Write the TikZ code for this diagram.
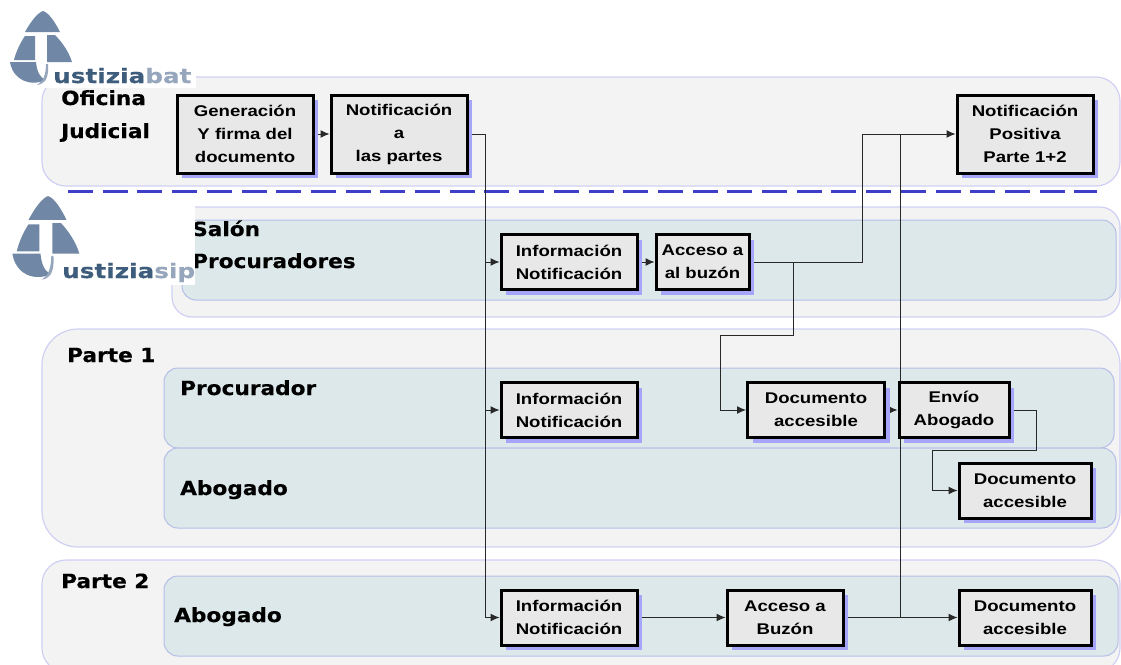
\documentclass[tikz,border=0pt]{standalone}
\usepackage{fontspec}
\usetikzlibrary{shadows,backgrounds,calc,arrows.meta}
\newfontfamily\boxfont[FakeStretch=1.2]{Liberation Sans Bold}
\newfontfamily\lanefont[FakeStretch=1.11,FakeBold=0.4]{DejaVu Sans Bold}
\newfontfamily\markfont[FakeStretch=1.235,FakeBold=0.4]{DejaVu Sans Bold}
\definecolor{outerfill}{RGB}{243,243,243}
\definecolor{outerline}{RGB}{208,208,245}
\definecolor{innerfill}{RGB}{220,232,234}
\definecolor{innerline}{RGB}{182,190,232}
\definecolor{boxfill}{RGB}{232,232,232}
\definecolor{boxshade}{RGB}{165,165,250}
\definecolor{flowline}{RGB}{40,40,40}
\definecolor{dashblue}{RGB}{62,62,200}
\definecolor{logodark}{RGB}{62,92,124}
\definecolor{logomid}{RGB}{112,136,166}
\definecolor{logolight}{RGB}{150,166,188}
\tikzset{
  stepbox/.style={draw=black,line width=3pt,fill=boxfill,inner sep=0pt,align=center,
    font=\boxfont\fontsize{15.5}{23}\selectfont,
    drop shadow={shadow xshift=5pt,shadow yshift=-5pt,fill=boxshade,opacity=1}},
  outerpanel/.style={draw=outerline,line width=1.2pt,fill=outerfill},
  innerpanel/.style={draw=innerline,line width=1pt,fill=innerfill,rounded corners=14pt},
  lanelabel/.style={anchor=base west,inner sep=0pt,font=\lanefont\fontsize{19.5}{22}\selectfont},
  flow/.style={draw=flowline,line width=1pt,-{Latex[length=9pt,width=8pt]}},
  plainflow/.style={draw=flowline,line width=1pt},
  logotext/.style={anchor=base west,inner sep=0pt,font=\markfont\fontsize{20}{22}\selectfont},
  pics/scalemark/.style={code={
    \fill[logomid] (43,11) .. controls (37,13) and (30,23) .. (25,32) -- (60,32) .. controls (55,22) and (49,13) .. (43,11) -- cycle;
    \fill[logomid] (35,36) -- (35,60) -- (14,60) .. controls (16,52) and (20,43) .. (25,36) -- cycle;
    \fill[logomid] (47,35) -- (47,62) -- (72,62) .. controls (69,52) and (62,42) .. (55,35) -- cycle;
    \fill[logomid] (10,62) -- (36,62) .. controls (37,72) and (40,78) .. (46,80) .. controls (30,87) and (13,80) .. (10,62) -- cycle;
    \fill[logolight] (48,64) .. controls (49,76) and (46,84) .. (37,85) .. controls (43,82) and (46,75) .. (46,64) -- cycle;
  }}
}
\begin{document}
\begin{tikzpicture}[x=1pt,y=-1pt]
  \useasboundingbox (0,0) rectangle (1121,664);
  % boxes
  \node[stepbox,minimum width=136pt,minimum height=78pt] (genera) at (245,134) {Generación\\Y firma del\\documento};
  \node[stepbox,minimum width=136pt,minimum height=78pt] (notif) at (399,134) {Notificación\\a\\las partes};
  \node[stepbox,minimum width=136pt,minimum height=78pt] (positiva) at (1025,134) {Notificación\\Positiva\\Parte 1+2};
  \node[stepbox,minimum width=136pt,minimum height=55pt] (infosalon) at (569,262) {Información\\Notificación};
  \node[stepbox,minimum width=93pt,minimum height=55pt] (accesosalon) at (702.5,262) {Acceso a\\al buzón};
  \node[stepbox,minimum width=136pt,minimum height=55pt] (infouno) at (569,410) {Información\\Notificación};
  \node[stepbox,minimum width=137pt,minimum height=55pt] (docuno) at (816,410) {Documento\\accesible};
  \node[stepbox,minimum width=110pt,minimum height=55pt] (envio) at (954,410) {Envío\\Abogado};
  \node[stepbox,minimum width=132pt,minimum height=55pt] (docdos) at (1025,490.5) {Documento\\accesible};
  \node[stepbox,minimum width=136pt,minimum height=55pt] (infodos) at (569,617.5) {Información\\Notificación};
  \node[stepbox,minimum width=116pt,minimum height=55pt] (accesodos) at (785,617.5) {Acceso a\\Buzón};
  \node[stepbox,minimum width=132pt,minimum height=55pt] (docfin) at (1025,617.5) {Documento\\accesible};
  % bends of the lines
  \coordinate (trunk) at (485,617.5);
  \coordinate (busup) at (862,134);
  \coordinate (riser) at (900,134);
  \coordinate (dropright) at (793,335);
  \coordinate (dropleft) at (720,335);
  \coordinate (hookright) at (1036,450);
  \coordinate (hookleft) at (932,450);
  \begin{scope}[on background layer]
    \draw[outerpanel,rounded corners=24pt] (42,77) rectangle (1120,186);
    \draw[outerpanel,rounded corners=20pt] (172,207) rectangle (1120,317);
    \draw[innerpanel] (182,220) rectangle (1116,300);
    \draw[outerpanel,rounded corners=36pt] (42,329) rectangle (1120,547);
    \draw[innerpanel] (164,368) rectangle (1114,448);
    \draw[innerpanel] (164,448) rectangle (1116,528);
    \draw[outerpanel,rounded corners=24pt] (42,560) rectangle (1120,672);
    \draw[innerpanel] (164,576) rectangle (1118,656);
    \draw[dashblue,line width=2.4pt,dash pattern=on 25pt off 9.7pt] (68,191.5) -- (1097,191.5);
    \draw[flow] (genera) -- (notif);
    \draw[flow] (notif.east) -| (trunk) -- (infodos.west);
    \draw[flow] (trunk |- infosalon.west) -- (infosalon.west);
    \draw[flow] (trunk |- infouno.west) -- (infouno.west);
    \draw[flow] (infosalon) -- (accesosalon);
    \draw[flow] (accesosalon.east) -| (busup) -- (positiva.west);
    \draw[flow] (accesosalon.east) -| (dropright) -- (dropleft) |- (docuno.west);
    \draw[flow] (docuno) -- (envio);
    \draw[flow] (envio.east) -| (hookright) -- (hookleft) |- (docdos.west);
    \draw[flow] (infodos) -- (accesodos);
    \draw[flow] (accesodos) -- (docfin);
    \draw[plainflow] (riser |- accesodos.east) -- (riser);
  \end{scope}
  % lane names
  \node[lanelabel] (oficina) at (61,105) {Oficina};
  \node[lanelabel] (judicial) at (61,138) {Judicial};
  \node[lanelabel] (salon) at (192,236) {Salón};
  \node[lanelabel] (procuradores) at (192,268) {Procuradores};
  \node[lanelabel] (parteuno) at (67,362) {Parte 1};
  \node[lanelabel] (procurador) at (180,395) {Procurador};
  \node[lanelabel] (abogadouno) at (180,495) {Abogado};
  \node[lanelabel] (partedos) at (61,588) {Parte 2};
  \node[lanelabel] (abogadodos) at (174,622) {Abogado};
  % the two marks
  \fill[white] (0,0) rectangle (196,88);
  \pic {scalemark};
  \node[logotext,text=logodark] (markbat) at (53,83) {ustizia\textcolor{logolight}{bat}};
  \fill[white] (0,195) rectangle (195,285);
  \pic[shift={(1.6,183.6)},xscale=1.08,yscale=1.13] {scalemark};
  \node[logotext,text=logodark] (marksip) at (62,278) {ustizia\textcolor{logolight}{sip}};
\end{tikzpicture}
\end{document}
